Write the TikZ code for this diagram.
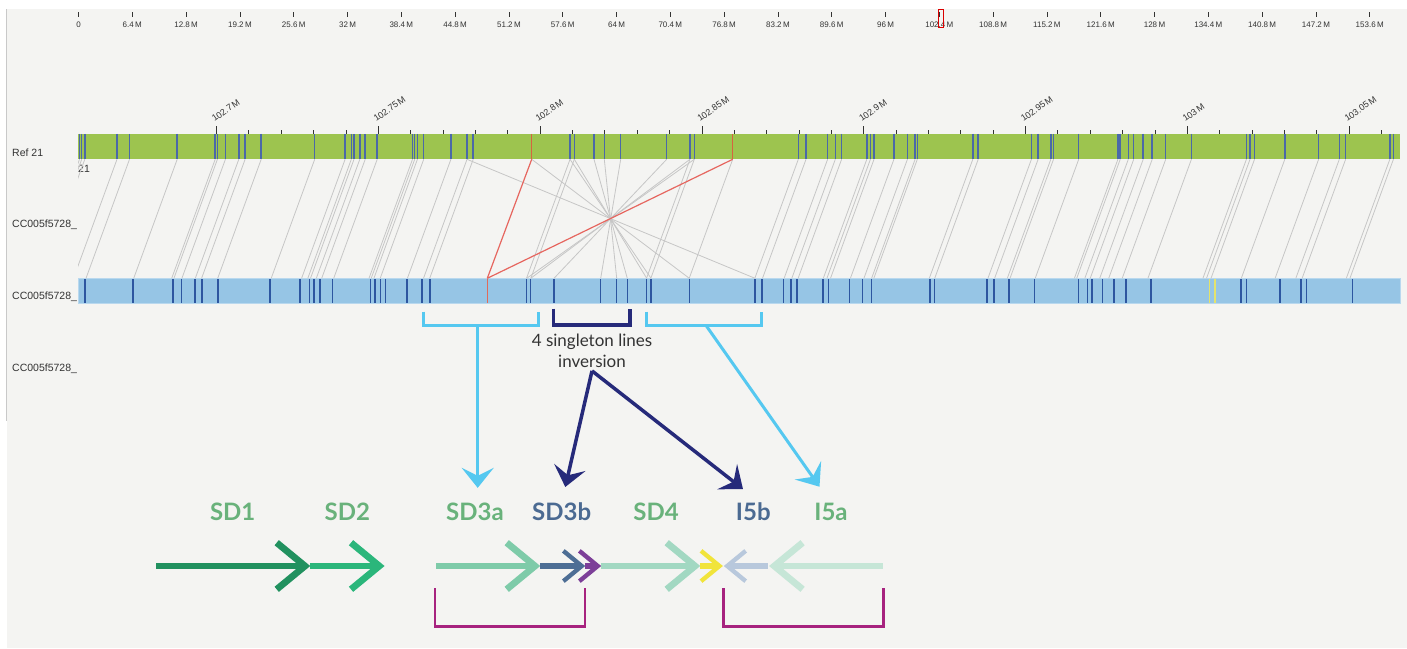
\documentclass[tikz,border=0pt]{standalone}
\usepackage{fontspec}
\setmainfont{Liberation Sans}
\newfontfamily\latofont{Lato}
\usetikzlibrary{arrows.meta}

\definecolor{bggray}{HTML}{F4F4F2}
\definecolor{edgegray}{HTML}{C9C9C9}
\definecolor{txtgray}{HTML}{333333}
\definecolor{refgreen}{HTML}{9DC44F}
\definecolor{refmark}{HTML}{4A69A8}
\definecolor{refred}{HTML}{D6643F}
\definecolor{qryblue}{HTML}{96C5E5}
\definecolor{qryedge}{HTML}{B9D8EE}
\definecolor{qrymark}{HTML}{2D56A0}
\definecolor{qryred}{HTML}{E06B5B}
\definecolor{qryyellow}{HTML}{E4E36C}
\definecolor{linkgray}{HTML}{C6C6C6}
\definecolor{linkred}{HTML}{E6665F}
\definecolor{skyblue}{HTML}{55C8F0}
\definecolor{navy}{HTML}{262A7A}
\definecolor{lblgreen}{HTML}{69B27B}
\definecolor{lblslate}{HTML}{4B6A92}
\definecolor{magbar}{HTML}{A7237F}
\definecolor{sdone}{HTML}{21915F}
\definecolor{sdtwo}{HTML}{2BB67B}
\definecolor{sdthreea}{HTML}{7ECBA9}
\definecolor{sdthreeb}{HTML}{4D6E95}
\definecolor{sdpurple}{HTML}{7C3F98}
\definecolor{sdfour}{HTML}{A2D8C2}
\definecolor{sdyellow}{HTML}{F1E43A}
\definecolor{ifiveb}{HTML}{B8C8DC}
\definecolor{ifivea}{HTML}{C6E6D7}

\tikzset{
  scrlab/.style={font=\fontsize{10.5}{12}\selectfont, text=txtgray, inner sep=0pt, anchor=west},
  rulerlab/.style={font=\fontsize{8}{9}\selectfont, text=txtgray, inner sep=0pt},
  ticktop/.style={draw=txtgray, line width=0.8pt},
  barmark/.style={line width=1.5pt},
  synline/.style={draw=linkgray, line width=0.8pt},
  redline/.style={draw=linkred, line width=1.2pt},
  bracketline/.style={line width=3pt},
  pointer/.style={line width=3pt, -{Stealth[length=20pt,width=32pt,inset=8pt]}},
  segname/.style={font=\latofont\bfseries\fontsize{24}{24}\selectfont, inner sep=0pt, anchor=base},
  shaft/.style={line width=6.7pt},
  chevron/.style={miter limit=4},
  magbracket/.style={draw=magbar, line width=2.5pt},
}

\begin{document}
\begin{tikzpicture}[x=1pt,y=-1pt]
  \useasboundingbox (0,0) rectangle (1407,648);
  \fill[bggray] (6.7,9) rectangle (1407,648);
  \draw[edgegray, line width=0.8pt] (6.7,9) -- (6.7,421);

  \foreach \lab [count=\i from 0] in {0, 6.4\,M, 12.8\,M, 19.2\,M, 25.6\,M, 32\,M, 38.4\,M, 44.8\,M, 51.2\,M, 57.6\,M, 64\,M, 70.4\,M, 76.8\,M, 83.2\,M, 89.6\,M, 96\,M, 102.4\,M, 108.8\,M, 115.2\,M, 121.6\,M, 128\,M, 134.4\,M, 140.8\,M, 147.2\,M, 153.6\,M}{
    \draw[ticktop] ({78.5+53.8*\i},12) -- ++(0,4.5);
    \node[rulerlab] (ruler\i) at ({78.5+53.8*\i},24.5) {\lab};
  }
  \draw[red!85!black, line width=0.9pt] (938.5,9) rectangle (943,27);

  \node[scrlab] (refname) at (12,153) {Ref 21};
  \node[scrlab] (refchr) at (78,169) {21};
  \node[scrlab] (qryone) at (12,225) {CC005f5728\_};
  \node[scrlab] (qrytwo) at (12,297) {CC005f5728\_};
  \node[scrlab] (qrythree) at (12,369) {CC005f5728\_};

  \fill[refgreen] (78,133.8) rectangle (1400,159.3);
  \foreach \g in {79.5,81.7,84.8,117,129.5,177.2,215.2,217.4,225.4,238.8,245.1,261.2,314.7,345.1,351.3,354,359.8,365.2,377.2,412.5,414.7,417.4,423.7,450.9,467,473.2,570,574.3,594,604.3,620.7,666.7,690,694.3,798.3,806,827.6,835.3,841.6,866.8,870.4,874,893.9,907.4,915.1,917.3,972.8,978.2,1031.4,1038.1,1050.8,1053.5,1078.7,1117.9,1120.2,1128.3,1133.7,1143.2,1152.2,1165.7,1191.4,1246.4,1250,1254.5,1284.8,1318.6,1339.3,1345.6,1389.8,1393.4}
    \draw[barmark, refmark] (\g,133.8) -- (\g,159.3);
  \foreach \g in {531.7,732.7}
    \draw[barmark, refred] (\g,133.8) -- (\g,159.3);

  \foreach \m in {0,...,36}
    \draw[ticktop] ({216.5+32.36*\m},130) -- ++(0,3.8);
  \foreach \lab [count=\k from 0] in {102.7,102.75,102.8,102.85,102.9,102.95,103,103.05}{
    \draw[ticktop] ({216.5+161.8*\k},126) -- ++(0,7.8);
    \node[rulerlab, font=\fontsize{9}{10}\selectfont, rotate=35, anchor=base west] (scale\k) at ({214.5+161.8*\k},122) {\lab\,M};
  }

  \filldraw[fill=qryblue, draw=qryedge, line width=1pt] (78,278.3) rectangle (1400,303.3);
  \foreach \b in {84.8,133,173.2,181.7,195.1,201.8,217.9,270.1,300,309.4,313.8,320.1,332.6,370.5,375,380.4,385.7,407.1,421.9,429.9,526.7,530.7,554,600.7,616.7,627.3,646.7,651,689.3,755,762,783.4,791.1,796.9,823.1,828.5,849.7,862.3,871.3,929.9,934.4,987.2,994,1008.8,1034.5,1078.7,1087.7,1092.2,1102.6,1113.9,1126,1150.9,1241,1246.4,1279.8,1301,1306.4,1352.4}
    \draw[barmark, qrymark] (\b,279) -- (\b,302.8);
  \draw[barmark, qryred] (487.3,279) -- (487.3,302.8);
  \foreach \b in {1209.5,1214.9}
    \draw[barmark, qryyellow, line width=1.6pt] (\b,279) -- (\b,302.8);

  \begin{scope}
    \clip (78,159) rectangle (1400,279);
    \foreach \g in {79.5,81.7,84.8,117,129.5,177.2,215.2,217.4,225.4,238.8,245.1,261.2,314.7,345.1,351.3,354,359.8,365.2,377.2,412.5,414.7,417.4,423.7,450.9,467,473.2,570,574.3,690,694.3,732.7,798.3,806,827.6,835.3,841.6,866.8,870.4,874,893.9,907.4,915.1,917.3,972.8,978.2,1031.4,1038.1,1050.8,1053.5,1078.7,1117.9,1120.2,1128.3,1133.7,1143.2,1152.2,1165.7,1191.4,1246.4,1250,1254.5,1284.8,1318.6,1339.3,1345.6,1389.8,1393.4}
      \draw[synline] (\g,159.3) -- ({\g-43.5},278.3);
  \end{scope}
  \foreach \g/\b in {467/755,570/651,574.3/646.7,594/627.3,604.3/616.7,620.7/600.7,666.7/554,690/530.7,694.3/526.7,531.7/689.3}
    \draw[synline] (\g,159.3) -- (\b,278.3);
  \draw[redline] (531.7,159.3) -- (487.3,278.3);
  \draw[redline] (732.7,159.3) -- (487.3,278.3);

  \draw[bracketline, skyblue] (423.3,311.7) -- (423.3,325) -- (538.3,325) -- (538.3,311.7);
  \coordinate (bra) at (477.7,325);
  \draw[bracketline, navy, line width=3.5pt] (553.3,308.5) -- (553.3,325) -- (630,325) -- (630,308.5);
  \draw[bracketline, skyblue] (646.7,311.7) -- (646.7,325) -- (761,325) -- (761,311.7);
  \coordinate (brc) at (705.7,325);

  \node[font=\latofont\fontsize{17}{21.5}\selectfont, text=txtgray, align=center, inner sep=3pt] (inv) at (592,350.6) {4 singleton lines\\inversion};

  \node[segname, text=lblgreen] (sdone) at (232.7,520.6) {SD1};
  \node[segname, text=lblgreen] (sdtwo) at (347.3,520.6) {SD2};
  \node[segname, text=lblgreen] (sdthreea) at (475,520.6) {SD3a};
  \node[segname, text=lblslate] (sdthreeb) at (561.7,520.6) {SD3b};
  \node[segname, text=lblgreen] (sdfour) at (656,520.6) {SD4};
  \node[segname, text=lblslate] (ifiveb) at (753.3,520.6) {I5b};
  \node[segname, text=lblgreen] (ifivea) at (831,520.6) {I5a};

  \draw[pointer, skyblue, shorten >=15pt] (bra) -- (bra |- sdthreea.north);
  \draw[pointer, skyblue, shorten >=20pt] (brc) -- (ifivea.north);
  \draw[pointer, navy, line width=3.5pt, shorten >=16pt] (inv.south) -- (sdthreeb.north);
  \draw[pointer, navy, line width=3.5pt, shorten >=22pt] (inv.south) -- ([xshift=7pt]ifiveb.north);

  \foreach \xa/\xt/\s/\c in {156/310/1/sdone, 310/384.3/1/sdtwo, 436/540/1/sdthreea, 540/585/0.65/sdthreeb, 585/601/0.65/sdpurple, 601/700/1/sdfour, 700/722.7/0.65/sdyellow}{
    \draw[shaft, \c] (\xa,566) -- ({\xt-5*\s},566);
    \draw[chevron, \c, line width=6.7pt*\s] ({\xt-33.3*\s},{566-23.3*\s}) -- ({\xt-5*\s},566) -- ({\xt-33.3*\s},{566+23.3*\s});
  }
  \foreach \xt/\xb/\s/\c in {724/768.3/0.65/ifiveb, 769.3/883.3/1/ifivea}{
    \draw[shaft, \c] ({\xt+5*\s},566) -- (\xb,566);
    \draw[chevron, \c, line width=6.7pt*\s] ({\xt+33.3*\s},{566-23.3*\s}) -- ({\xt+5*\s},566) -- ({\xt+33.3*\s},{566+23.3*\s});
  }

  \draw[magbracket] (435,588) -- (435,626.7) -- (585,626.7) -- (585,588);
  \draw[magbracket] (723.3,588) -- (723.3,626.7) -- (883.3,626.7) -- (883.3,588);
\end{tikzpicture}
\end{document}
